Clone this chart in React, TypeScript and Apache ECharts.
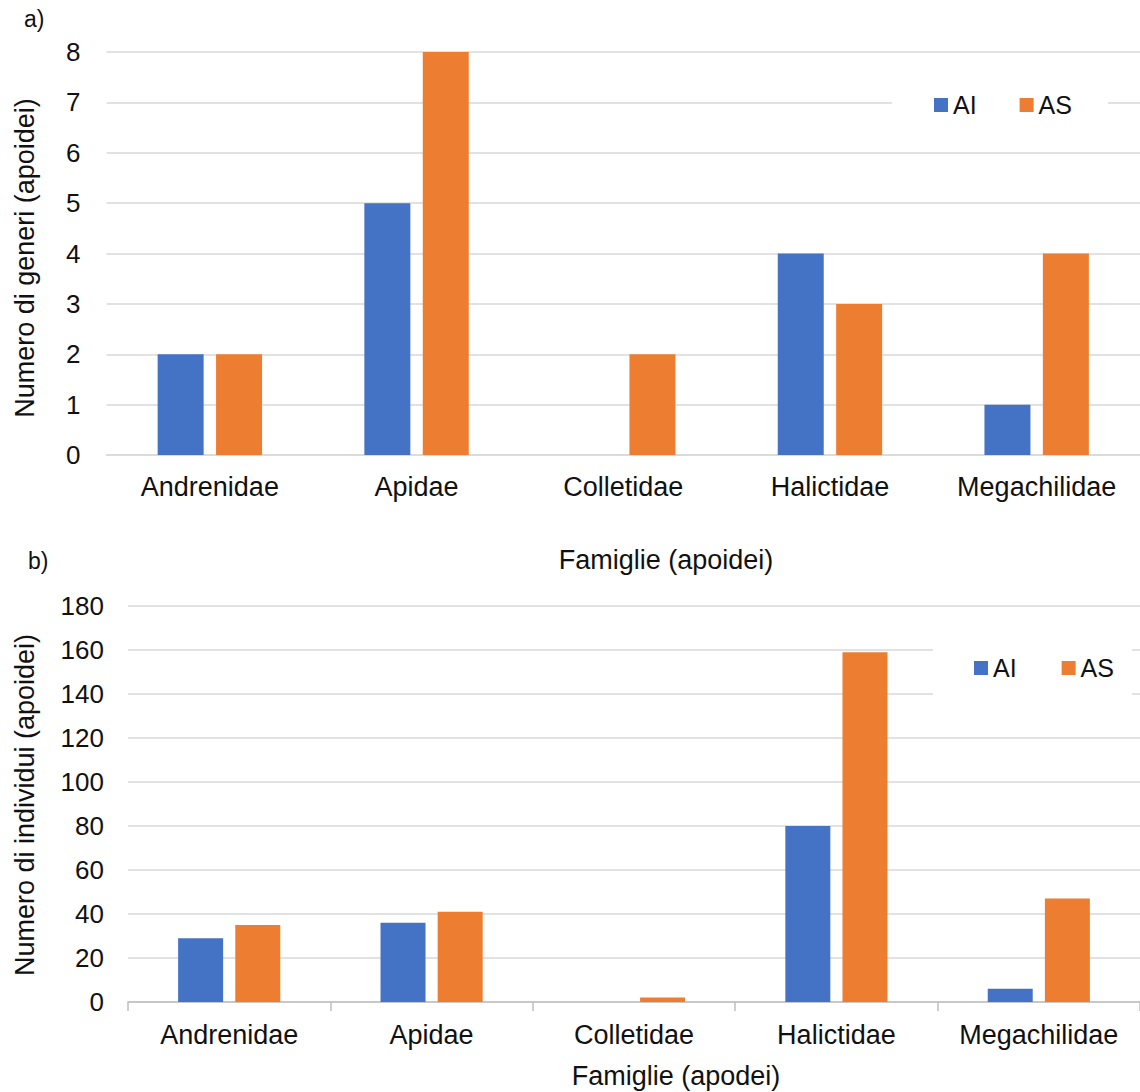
import React, { useEffect, useRef } from "react";
import * as echarts from "echarts";

const categories = ["Andrenidae", "Apidae", "Colletidae", "Halictidae", "Megachilidae"];
const seriesNames = ["AI", "AS"];
const generiAI = [2, 5, 0, 4, 1];
const generiAS = [2, 8, 2, 3, 4];
const individuiAI = [29, 36, 0, 80, 6];
const individuiAS = [35, 41, 2, 159, 47];

const panelLabels = ["a)", "b)"];
const yTitles = ["Numero di generi (apoidei)", "Numero di individui (apoidei)"];
const xTitles = ["Famiglie (apoidei)", "Famiglie (apodei)"];

const BLUE = "#4472C4";
const ORANGE = "#ED7D31";
const GRID = "#D9D9D9";
const AXIS = "#BFBFBF";
const TEXT = "#111111";
const FONT = "'Liberation Sans', Arial, sans-serif";

export default function App() {
  const ref = useRef<HTMLDivElement>(null);

  useEffect(() => {
    if (!ref.current) return;
    const chart = echarts.init(ref.current, undefined, { renderer: "svg" });

    const legendCommon = {
      data: seriesNames,
      icon: "rect",
      itemWidth: 14,
      itemHeight: 14,
      orient: "horizontal" as const,
      backgroundColor: "#ffffff",
      textStyle: { color: TEXT, fontSize: 25, fontFamily: FONT, lineHeight: 28 },
      selectedMode: false,
    };

    const option: any = {
      animation: false,
      backgroundColor: "#ffffff",
      color: [BLUE, ORANGE],
      textStyle: { fontFamily: FONT },
      grid: [
        { left: 106.5, top: 52, width: 1037.5, height: 403, containLabel: false },
        { left: 128, top: 606, width: 1017.5, height: 396, containLabel: false },
      ],
      legend: [
        {
          ...legendCommon,
          left: 892,
          top: 81,
          itemGap: 43,
          padding: [10, 36, 10, 42],
        },
        {
          ...legendCommon,
          left: 933,
          top: 638,
          itemGap: 45,
          padding: [16, 18, 16, 41],
        },
      ],
      xAxis: [
        {
          type: "category",
          gridIndex: 0,
          data: categories,
          boundaryGap: true,
          axisLine: { show: true, lineStyle: { color: GRID, width: 1.5 } },
          axisTick: { show: false },
          axisLabel: { color: TEXT, fontSize: 27, fontFamily: FONT, margin: 18, interval: 0 },
          splitLine: { show: false },
        },
        {
          type: "category",
          gridIndex: 1,
          data: categories,
          boundaryGap: true,
          axisLine: { show: true, lineStyle: { color: AXIS, width: 1.5 } },
          axisTick: { show: true, length: 9, lineStyle: { color: AXIS, width: 1.5 } },
          axisLabel: { color: TEXT, fontSize: 27, fontFamily: FONT, margin: 19, interval: 0 },
          splitLine: { show: false },
        },
      ],
      yAxis: [
        {
          type: "value",
          gridIndex: 0,
          min: 0,
          max: 8,
          interval: 1,
          axisLine: { show: false },
          axisTick: { show: false },
          axisLabel: { color: TEXT, fontSize: 26, fontFamily: FONT, margin: 26 },
          splitLine: { show: true, lineStyle: { color: GRID, width: 1.5 } },
        },
        {
          type: "value",
          gridIndex: 1,
          min: 0,
          max: 180,
          interval: 20,
          axisLine: { show: false },
          axisTick: { show: false },
          axisLabel: { color: TEXT, fontSize: 26, fontFamily: FONT, margin: 24 },
          splitLine: { show: true, lineStyle: { color: GRID, width: 1.5 } },
        },
      ],
      series: [
        {
          name: seriesNames[0],
          type: "bar",
          xAxisIndex: 0,
          yAxisIndex: 0,
          data: generiAI,
          barWidth: 46,
          barGap: "27%",
          itemStyle: { color: BLUE },
        },
        {
          name: seriesNames[1],
          type: "bar",
          xAxisIndex: 0,
          yAxisIndex: 0,
          data: generiAS,
          barWidth: 46,
          barGap: "27%",
          itemStyle: { color: ORANGE },
        },
        {
          name: seriesNames[0],
          type: "bar",
          xAxisIndex: 1,
          yAxisIndex: 1,
          data: individuiAI,
          barWidth: 45,
          barGap: "27%",
          itemStyle: { color: BLUE },
        },
        {
          name: seriesNames[1],
          type: "bar",
          xAxisIndex: 1,
          yAxisIndex: 1,
          data: individuiAS,
          barWidth: 45,
          barGap: "27%",
          itemStyle: { color: ORANGE },
        },
      ],
      graphic: [
        {
          type: "text",
          x: 24,
          y: 30,
          style: { text: panelLabels[0], font: `23px ${FONT}`, fill: TEXT, textAlign: "left", textVerticalAlign: "bottom" },
        },
        {
          type: "text",
          x: 28,
          y: 572,
          style: { text: panelLabels[1], font: `23px ${FONT}`, fill: TEXT, textAlign: "left", textVerticalAlign: "bottom" },
        },
        {
          type: "text",
          x: 25,
          y: 258,
          rotation: Math.PI / 2,
          style: { text: yTitles[0], font: `27px ${FONT}`, fill: TEXT, textAlign: "center", textVerticalAlign: "middle" },
        },
        {
          type: "text",
          x: 25,
          y: 805,
          rotation: Math.PI / 2,
          style: { text: yTitles[1], font: `27px ${FONT}`, fill: TEXT, textAlign: "center", textVerticalAlign: "middle" },
        },
        {
          type: "text",
          x: 666,
          y: 560,
          style: { text: xTitles[0], font: `27px ${FONT}`, fill: TEXT, textAlign: "center", textVerticalAlign: "middle" },
        },
        {
          type: "text",
          x: 676,
          y: 1076,
          style: { text: xTitles[1], font: `27px ${FONT}`, fill: TEXT, textAlign: "center", textVerticalAlign: "middle" },
        },
      ],
    };

    chart.setOption(option);
    return () => {
      chart.dispose();
    };
  }, []);

  return (
    <div
      ref={ref}
      style={{ position: "fixed", left: 0, top: 0, width: 1140, height: 1092, background: "#fff" }}
    />
  );
}
